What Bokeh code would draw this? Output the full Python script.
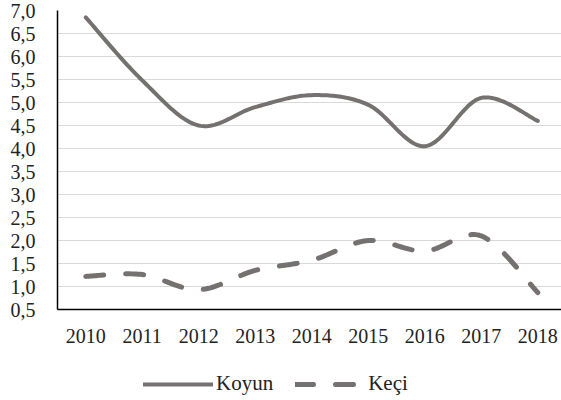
import numpy as np
from bokeh.plotting import figure
from bokeh.layouts import column
from bokeh.models import Range1d, FixedTicker, Legend, LegendItem
from bokeh.embed import file_html
from bokeh.resources import INLINE

# Yearly values for the two series
years = ["2010", "2011", "2012", "2013", "2014", "2015", "2016", "2017", "2018"]
koyun = [6.85, 5.48, 4.50, 4.90, 5.16, 4.95, 4.05, 5.10, 4.60]
keci = [1.22, 1.26, 0.93, 1.35, 1.57, 2.00, 1.77, 2.10, 0.87]
series_names = ["Koyun", "Keçi"]

y_ticks = [0.5, 1.0, 1.5, 2.0, 2.5, 3.0, 3.5, 4.0, 4.5, 5.0, 5.5, 6.0, 6.5, 7.0]
y_labels = ["0,5", "1,0", "1,5", "2,0", "2,5", "3,0", "3,5", "4,0", "4,5",
            "5,0", "5,5", "6,0", "6,5", "7,0"]

FONT = "Liberation Serif"
LINE_COLOR = "#767171"
SOLID = dict(line_color=LINE_COLOR, line_width=4, line_cap="round",
             line_join="round")
DASHED = dict(line_color=LINE_COLOR, line_width=5, line_dash="18 22",
              line_cap="round", line_join="round")


def smooth(xs, ys, steps=30):
    """Smoothed path through the points (cubic Bezier, Catmull-Rom tangents)."""
    p = np.column_stack([xs, ys]).astype(float)
    n = len(p)
    out = [p[0]]
    t = np.linspace(0, 1, steps)[1:, None]
    for i in range(n - 1):
        p0 = p[i - 1] if i > 0 else p[i]
        p1, p2 = p[i], p[i + 1]
        p3 = p[i + 2] if i + 2 < n else p[i + 1]
        c1 = p1 + (p2 - p0) / 6.0
        c2 = p2 - (p3 - p1) / 6.0
        seg = ((1 - t) ** 3) * p1 + 3 * ((1 - t) ** 2) * t * c1 \
            + 3 * (1 - t) * t ** 2 * c2 + t ** 3 * p2
        out.extend(seg)
    out = np.array(out)
    return out[:, 0], out[:, 1]


x_idx = list(range(len(years)))

# main chart
p = figure(width=561, height=350, output_backend="svg", toolbar_location=None,
           x_range=Range1d(-0.5, 8.42), y_range=Range1d(0.5, 7.0),
           min_border_left=57, min_border_right=0, min_border_top=10,
           min_border_bottom=41)
p.outline_line_color = None
p.background_fill_color = "white"
p.border_fill_color = "white"

p.xaxis.ticker = FixedTicker(ticks=x_idx)
p.xaxis.major_label_overrides = {i: y for i, y in zip(x_idx, years)}
p.yaxis.ticker = FixedTicker(ticks=y_ticks)
p.yaxis.major_label_overrides = {t: l for t, l in zip(y_ticks, y_labels)}
for ax in (p.xaxis[0], p.yaxis[0]):
    ax.axis_line_color = "black"
    ax.axis_line_width = 1.5
    ax.major_tick_line_color = None
    ax.minor_tick_line_color = None
    ax.major_label_text_font = FONT
    ax.major_label_text_font_size = "20px"
    ax.major_label_text_color = "#222222"
p.xaxis.major_label_standoff = 13
p.yaxis.major_label_standoff = 16

p.xgrid.grid_line_color = None
p.ygrid.grid_line_color = "#d9d9d9"
p.ygrid.grid_line_width = 1.2

kx, ky = smooth(x_idx, koyun)
p.line(kx, ky, **SOLID)
cx, cy = smooth(x_idx, keci)
p.line(cx, cy, **DASHED)

# legend strip under the chart; its ranges keep the series lines out of view,
# so only the legend entries show
leg = figure(width=561, height=50, output_backend="svg", toolbar_location=None,
             x_axis_type=None, y_axis_type=None,
             x_range=Range1d(100, 101), y_range=Range1d(100, 101),
             min_border=0)
leg.outline_line_color = None
leg.grid.grid_line_color = None
l1 = leg.line(x=x_idx, y=koyun, **SOLID)
l2 = leg.line(x=x_idx, y=keci, **DASHED)
legend = Legend(items=[LegendItem(label=series_names[0], renderers=[l1]),
                       LegendItem(label=series_names[1], renderers=[l2])],
                location=(86, 4), orientation="horizontal",
                glyph_width=70, glyph_height=20, label_standoff=3, spacing=22,
                padding=0, margin=0, border_line_color=None,
                background_fill_alpha=0,
                label_text_font=FONT, label_text_font_size="21px",
                label_text_color="#222222")
leg.add_layout(legend)

page = column(p, leg, spacing=0)
open("out.html", "w").write(file_html(page, INLINE))
